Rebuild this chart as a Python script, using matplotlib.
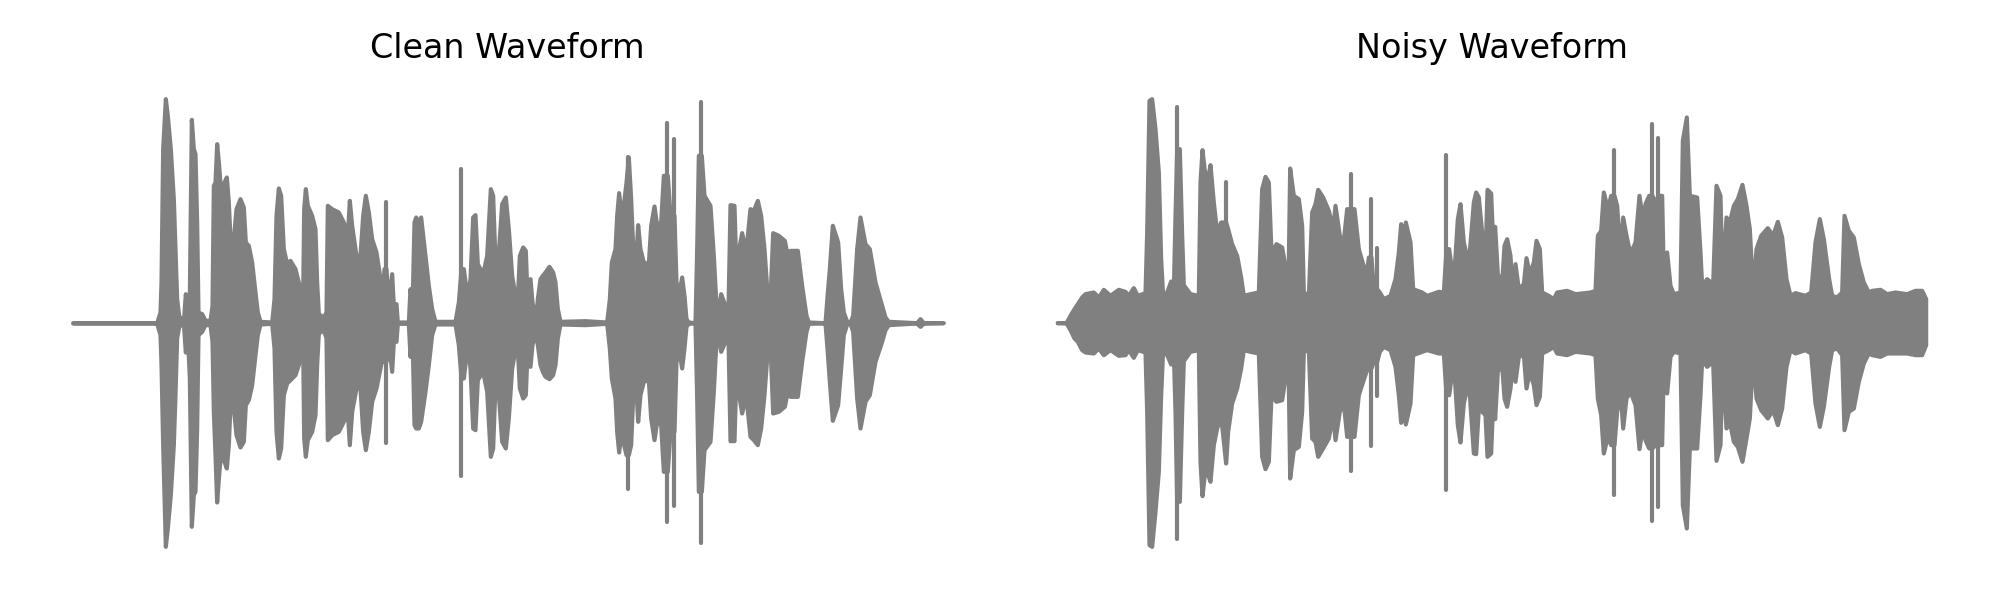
import numpy as np
import matplotlib
matplotlib.use('Agg')
import matplotlib.pyplot as plt

# envelope of each waveform (arbitrary amplitude units)
clean_t = [38, 100, 200, 290, 300, 303, 308, 316, 322, 331, 340, 345, 350, 356, 370, 376, 382, 388, 394, 400, 405, 410, 414, 425, 435, 450,
           456, 460, 465, 470, 476, 482, 488, 492, 499, 505, 510, 520, 528, 540, 550, 556, 565, 575, 585, 592, 600, 635,
           642, 648, 655, 662, 670, 680, 690, 705, 715, 722, 728, 731, 736, 742, 755, 765, 770, 775, 790,
           798, 802, 815, 835, 850, 862, 868, 875, 888, 900, 908, 916, 925, 935, 948, 960, 968, 972, 978, 985, 995, 1000, 1008, 1012, 1045,
           1050, 1056, 1062, 1067, 1075, 1082, 1095, 1105, 1115, 1125, 1185,
           1195, 1203, 1210, 1222, 1230, 1238, 1245, 1252, 1268, 1280, 1291, 1298, 1304, 1315, 1325, 1336, 1345,
           1355, 1365, 1372, 1378, 1388, 1396, 1402, 1410, 1416, 1424, 1428, 1432, 1440, 1447, 1455, 1467, 1478, 1485, 1492, 1500, 1575, 1640,
           1648, 1654, 1665, 1670, 1676, 1683, 1692, 1698, 1705, 1712, 1720, 1726, 1733, 1740, 1750, 1765, 1772, 1782, 1790, 1802, 1810, 1822, 1830, 1842, 1848, 1857, 1865, 1872, 1878, 1885, 1905,
           1910, 1915, 1924, 1932, 1950, 1960, 1968, 1975, 1982, 1995, 2004, 2010, 2022, 2030, 2036, 2045, 2057, 2070, 2080, 2092, 2102, 2112, 2123, 2130,
           2138, 2155, 2173, 2182, 2190, 2212, 2225, 2238, 2245, 2295, 2302, 2308, 2317, 2333, 2342, 2350, 2360, 2370, 2378, 2390, 2400, 2415, 2428, 2445, 2465, 2475, 2485, 2570, 2580, 2590, 2650]
clean_pos = [0, 0, 0, 0, 32, 122, 522, 672, 622, 522, 372, 222, 72, 22, 2, 87, 32, 82, 610, 522, 507, 302, 32, 27, 7, 7,
             52, 412, 422, 537, 472, 392, 412, 422, 437, 362, 252, 252, 342, 372, 347, 242, 232, 182, 92, 32, 4, 2,
             72, 322, 404, 382, 222, 177, 187, 162, 122, 92, 82, 342, 402, 352, 322, 282, 122, 27, 17,
             32, 352, 342, 332, 302, 262, 367, 292, 202, 202, 322, 382, 332, 252, 212, 132, 102, 162, 362, 52, 147, 52, 57, 2, 2,
             102, 42, 302, 317, 302, 317, 202, 112, 42, 4, 4,
             62, 462, 162, 72, 132, 317, 324, 177, 147, 202, 402, 382, 212, 212, 357, 377, 282,
             142, 82, 72, 202, 227, 217, 52, 132, 62, 22, 22, 72, 132, 142, 152, 169, 152, 122, 42, 4, 6, 2,
             72, 182, 222, 322, 390, 322, 370, 422, 497, 372, 182, 172, 294, 222, 182, 177, 292, 350, 292, 302, 442, 600, 322, 550, 122, 92, 137, 82, 12, 2, 0,
             222, 502, 662, 382, 352, 202, 52, 42, 87, 52, 42, 354, 352, 82, 222, 270, 212, 342, 337, 367, 322, 222, 62, 72,
             270, 262, 247, 202, 217, 217, 112, 22, 2, 0, 92, 162, 292, 242, 102, 32, 4, 2, 22, 222, 317, 237, 222, 122, 52, 17, 4, 0, 12, 0, 0]
clean_neg = [1, 1, 1, 1, 36, 126, 366, 671, 616, 516, 366, 216, 46, 11, 1, 88, 36, 166, 611, 516, 506, 316, 36, 26, 6, 6,
             56, 266, 396, 538, 456, 386, 411, 416, 436, 366, 246, 256, 336, 373, 356, 246, 231, 186, 96, 36, 4, 2,
             76, 326, 406, 376, 216, 181, 171, 156, 126, 86, 76, 346, 401, 351, 326, 276, 126, 31, 21,
             46, 351, 336, 326, 296, 266, 366, 266, 196, 196, 326, 381, 326, 236, 196, 136, 96, 116, 361, 56, 146, 56, 56, 2, 2,
             101, 36, 306, 316, 316, 296, 206, 126, 36, 4, 4,
             66, 461, 166, 66, 136, 316, 321, 171, 146, 206, 401, 376, 211, 216, 356, 376, 286,
             136, 81, 76, 196, 226, 216, 66, 131, 66, 36, 36, 66, 126, 146, 161, 168, 156, 126, 46, 4, 6, 2,
             76, 166, 226, 326, 388, 326, 371, 396, 498, 366, 176, 166, 296, 216, 176, 171, 286, 351, 296, 306, 446, 598, 326, 551, 116, 86, 136, 76, 11, 2, 1,
             226, 506, 661, 381, 356, 206, 51, 46, 86, 56, 46, 354, 354, 76, 216, 271, 216, 341, 351, 366, 316, 216, 66, 66,
             271, 266, 251, 206, 221, 221, 116, 26, 2, 1, 91, 176, 293, 246, 136, 36, 4, 2, 26, 226, 316, 236, 216, 116, 56, 21, 6, 1, 11, 1, 0]

noisy_t = [22, 48, 60, 72, 82, 95, 105, 130, 145, 160, 180, 205, 225, 235, 250, 262, 285, 290, 297, 305, 315, 325, 332, 338, 350, 362, 370, 375, 380, 388, 395, 400, 420, 445,
           450, 456, 463, 472, 480, 490, 500, 512, 527, 533, 545, 560, 572, 580, 600, 625, 635, 645, 655, 663, 678, 695, 708, 714, 719, 730, 745, 755, 760, 775,
           785, 795, 803, 818, 835, 848, 855, 868, 880, 890, 902, 912, 925, 938, 948, 955, 963, 970, 980, 988, 1000, 1020, 1035, 1045, 1052, 1058, 1066, 1080, 1088, 1115, 1130, 1165, 1180,
           1188, 1196, 1210, 1222, 1230, 1240, 1255, 1270, 1277, 1285, 1295, 1305, 1311, 1322,
           1328, 1334, 1342, 1355, 1362, 1370, 1380, 1386, 1395, 1405, 1420, 1428, 1438, 1450, 1458, 1468, 1475, 1495, 1510, 1520, 1550, 1575, 1620, 1635,
           1642, 1652, 1660, 1672, 1682, 1692, 1700, 1710, 1718, 1728, 1740, 1755, 1767, 1778, 1785, 1796, 1806, 1815, 1825, 1835, 1840, 1850, 1860, 1870, 1890,
           1897, 1909, 1918, 1940, 1950, 1955, 1970, 1988, 1998, 2010, 2016, 2028, 2038, 2050, 2062, 2076, 2088, 2098, 2108,
           2118, 2132, 2152, 2168, 2182, 2195, 2208, 2220, 2235, 2265, 2282, 2295, 2308, 2320, 2336, 2345, 2360, 2375, 2382, 2395, 2410, 2425, 2440, 2455, 2465, 2490, 2510, 2535, 2570, 2595, 2615, 2627]
noisy_pos = [0, 0, 22, 42, 57, 77, 87, 92, 77, 100, 82, 100, 94, 82, 105, 82, 90, 272, 667, 672, 582, 452, 192, 82, 92, 125, 97, 322, 647, 522, 262, 114, 87, 82,
             422, 519, 457, 427, 474, 362, 272, 302, 422, 282, 237, 202, 137, 82, 87, 92, 402, 439, 422, 212, 237, 227, 152, 117, 464, 382, 372, 292, 92, 82,
             332, 357, 400, 377, 337, 282, 352, 262, 247, 342, 445, 342, 222, 177, 142, 197, 370, 102, 224, 92, 72, 82, 132, 212, 297, 222, 302, 242, 102, 92, 82, 94, 92,
             502, 222, 122, 312, 357, 242, 177, 362, 392, 377, 272, 192, 400, 389,
             242, 289, 147, 122, 232, 252, 202, 102, 177, 102, 117, 195, 147, 182, 247, 222, 92, 82, 72, 92, 97, 87, 92, 97,
             262, 277, 392, 342, 382, 519, 352, 202, 317, 262, 207, 242, 382, 302, 357, 382, 595, 362, 555, 382, 132, 212, 112, 87, 92,
             547, 617, 382, 377, 212, 112, 132, 117, 412, 382, 122, 317, 302, 352, 372, 415, 352, 282, 92,
             222, 262, 285, 262, 304, 257, 132, 82, 90, 82, 92, 242, 312, 252, 132, 82, 77, 92, 322, 277, 257, 177, 122, 92, 97, 100, 87, 92, 87, 97, 97, 72]
noisy_neg = [0, 0, 21, 46, 56, 81, 88, 91, 76, 96, 81, 98, 96, 81, 104, 81, 88, 266, 666, 671, 566, 446, 216, 81, 96, 124, 91, 266, 648, 536, 266, 114, 86, 81,
             416, 519, 456, 451, 476, 366, 316, 281, 421, 326, 241, 196, 136, 81, 86, 91, 401, 438, 416, 216, 236, 231, 146, 106, 466, 381, 371, 266, 86, 81,
             346, 356, 401, 376, 346, 276, 351, 266, 241, 341, 446, 341, 216, 176, 146, 136, 371, 116, 221, 86, 71, 81, 131, 216, 299, 246, 304, 241, 96, 86, 81, 91, 91,
             503, 216, 116, 306, 358, 241, 171, 391, 393, 256, 266, 276, 401, 391,
             236, 288, 146, 126, 226, 251, 196, 126, 176, 101, 96, 196, 146, 186, 246, 221, 91, 81, 71, 91, 96, 86, 91, 96,
             226, 276, 391, 341, 366, 518, 266, 201, 316, 226, 206, 246, 378, 306, 351, 376, 594, 366, 553, 366, 126, 211, 101, 86, 91,
             546, 616, 376, 376, 216, 111, 131, 116, 413, 366, 116, 316, 296, 356, 371, 416, 346, 286, 91,
             226, 261, 286, 261, 306, 256, 131, 81, 91, 81, 91, 241, 311, 251, 131, 81, 76, 96, 321, 266, 256, 176, 121, 91, 96, 101, 91, 91, 91, 96, 96, 66]

titles = ['Clean Waveform', 'Noisy Waveform']


def split_spikes(t, values, margin=100):
    # narrow peaks get their own vertical stroke, the body keeps the level around them
    values = np.array(values, dtype=float)
    body = values.copy()
    is_spike = np.zeros(len(values), dtype=bool)
    for i in range(1, len(values) - 1):
        shoulder = max(values[i - 1], values[i + 1])
        if values[i] > shoulder + margin:
            body[i] = shoulder
            is_spike[i] = True
    return body, is_spike


fig = plt.figure(figsize=(20, 6), dpi=100)
ax1 = fig.add_axes([57 / 2000, 40 / 600, 900 / 2000, 480 / 600])
ax2 = fig.add_axes([1042 / 2000, 40 / 600, 900 / 2000, 480 / 600])

for ax, t, pos, neg, title, xlim in zip([ax1, ax2], [clean_t, noisy_t], [clean_pos, noisy_pos], [clean_neg, noisy_neg],
                                        titles, [(-9, 2691), (-24, 2676)]):
    pos_body, pos_spike = split_spikes(t, pos)
    neg_body, neg_spike = split_spikes(t, neg)
    ax.fill_between(t, pos_body, -neg_body, color='gray', linewidth=3, joinstyle='round', capstyle='round')
    spikes = pos_spike | neg_spike
    ax.vlines(np.array(t)[spikes], -np.array(neg)[spikes], np.array(pos)[spikes], color='gray', linewidth=3, capstyle='round')
    ax.set_xlim(*xlim)
    ax.set_ylim(-712, 728)
    ax.set_title(title, fontsize=24, pad=16)
    ax.axis('off')

fig.savefig('out.png', dpi=100)
